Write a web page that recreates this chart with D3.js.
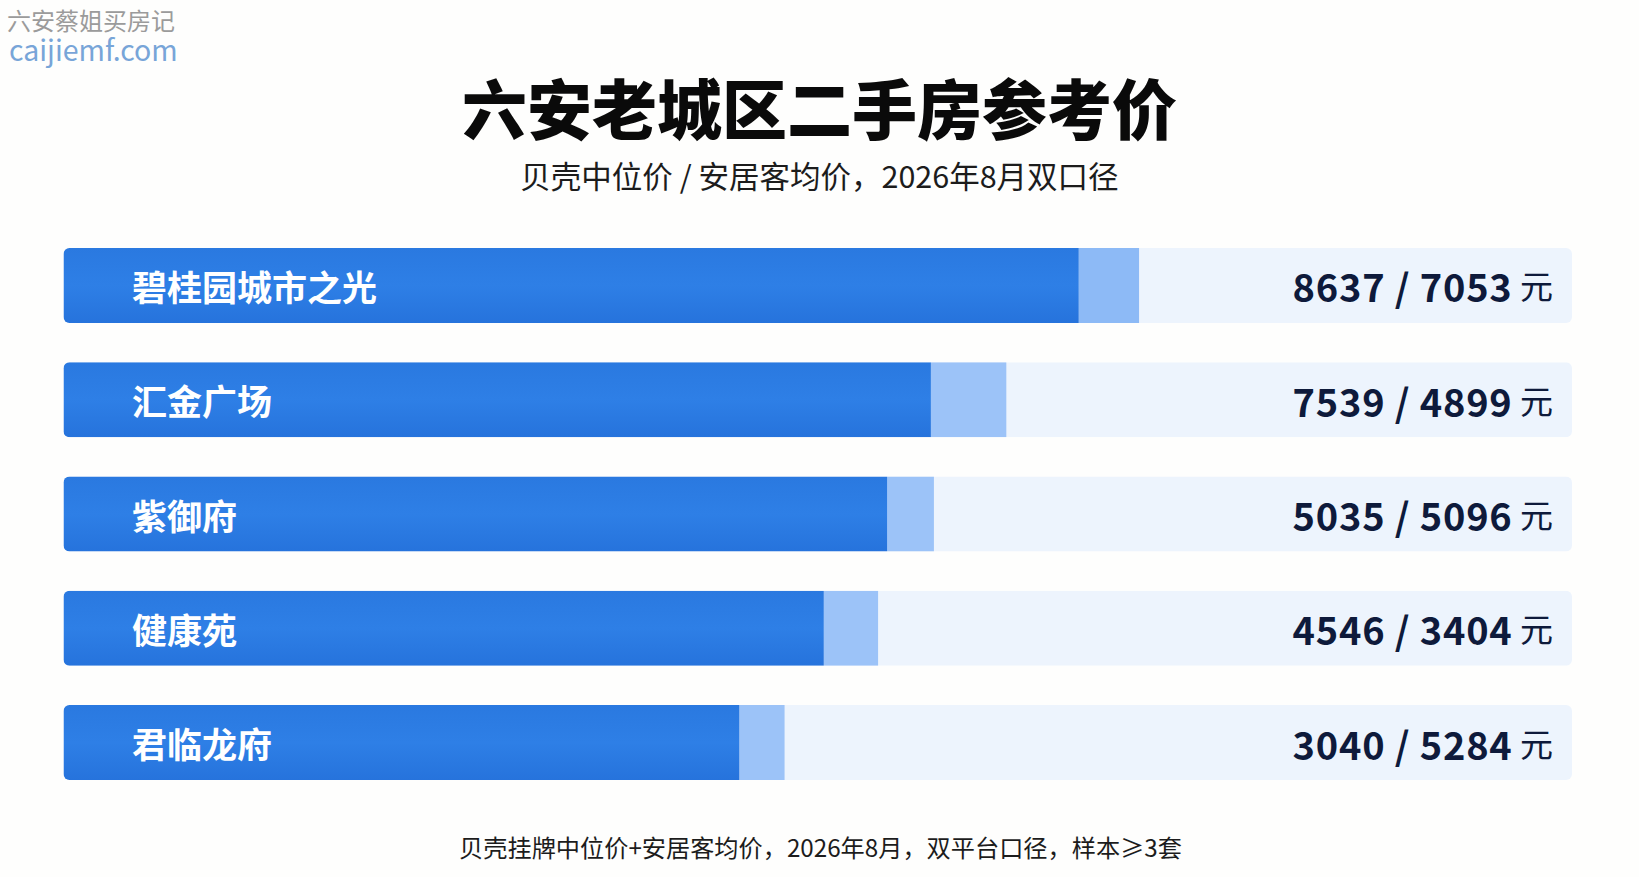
<!DOCTYPE html>
<html>
<head>
<meta charset="utf-8">
<script src="https://cdn.jsdelivr.net/npm/d3@7"></script>
<style>
  html, body { margin: 0; padding: 0; background: #fefefd; }
  svg { display: block; }
  text { font-family: "Noto Sans CJK SC", "Noto Sans", sans-serif; }
</style>
</head>
<body>
<svg id="chart" width="1639" height="877"></svg>
<script>
// ---- data ----
const categories = ["碧桂园城市之光", "汇金广场", "紫御府", "健康苑", "君临龙府"];
const beikeMedian = [8637, 7539, 5035, 4546, 3040];      // 贝壳中位价 (元)
const anjukeAvg   = [7053, 4899, 5096, 3404, 5284];      // 安居客均价 (元)
// bar lengths (% of the track)
const darkShare   = [67.3, 57.5, 54.6, 50.4, 44.8];
const lightShare  = [71.3, 62.5, 57.7, 54.0, 47.8];
const title = "六安老城区二手房参考价";
const subtitle = "贝壳中位价 / 安居客均价，2026年8月双口径";
const footnote = "贝壳挂牌中位价+安居客均价，2026年8月，双平台口径，样本≥3套";
const unit = "元";

const rows = categories.map((c, i) => ({
  name: c, b: beikeMedian[i], a: anjukeAvg[i], dark: darkShare[i], light: lightShare[i], i
}));

const svg = d3.select("#chart");
const W = 1639, H = 877;

// watermark
svg.append("text").attr("x", 7).attr("y", 19)
  .attr("dominant-baseline", "central")
  .attr("font-size", 24).attr("fill", "#9b9b9b")
  .text("六安蔡姐买房记");
svg.append("text").attr("x", 9).attr("y", 61)
  .attr("font-family", "'Noto Sans', sans-serif")
  .attr("font-size", 28.5).attr("fill", "#78a5d8")
  .text("caijiemf.com");

// titles
svg.append("text").attr("x", W / 2).attr("y", 106)
  .attr("text-anchor", "middle").attr("dominant-baseline", "central")
  .attr("font-size", 65).attr("font-weight", 900).attr("fill", "#0a0a0a")
  .text(title);
svg.append("text").attr("x", W / 2).attr("y", 175)
  .attr("text-anchor", "middle").attr("dominant-baseline", "central")
  .attr("font-size", 30.5).attr("fill", "#1c1c1c")
  .text(subtitle);

// scales
const x = d3.scaleLinear().domain([0, 100]).range([63.5, 1572]);
const y = d3.scaleBand().domain(categories).range([248, 780])
  .paddingInner(0.3436).paddingOuter(0);

const defs = svg.append("defs");
const grad = defs.append("linearGradient").attr("id", "darkGrad")
  .attr("x1", 0).attr("y1", 0).attr("x2", 0).attr("y2", 1);
grad.append("stop").attr("offset", "0%").attr("stop-color", "#2a79e0");
grad.append("stop").attr("offset", "50%").attr("stop-color", "#2e7fe6");
grad.append("stop").attr("offset", "100%").attr("stop-color", "#2673dc");

rows.forEach(d => {
  defs.append("clipPath").attr("id", "clip" + d.i)
    .append("rect")
    .attr("x", x(0)).attr("y", y(d.name))
    .attr("width", x(100) - x(0)).attr("height", y.bandwidth())
    .attr("rx", 6);
});

const g = svg.append("g");
const row = g.selectAll("g.row").data(rows).join("g").attr("class", "row")
  .attr("clip-path", d => `url(#clip${d.i})`);

row.append("rect")
  .attr("x", x(0)).attr("y", d => y(d.name))
  .attr("width", x(100) - x(0)).attr("height", y.bandwidth())
  .attr("fill", "#edf4fd");

row.append("rect")
  .attr("x", d => x(d.dark)).attr("y", d => y(d.name))
  .attr("width", d => x(d.light) - x(d.dark)).attr("height", y.bandwidth())
  .attr("fill", (d, i) => i === 0 ? "#8dbaf6" : "#9cc3f8");

row.append("rect")
  .attr("x", x(0)).attr("y", d => y(d.name))
  .attr("width", d => x(d.dark) - x(0)).attr("height", y.bandwidth())
  .attr("fill", "url(#darkGrad)");

// labels
g.selectAll("text.label").data(rows).join("text").attr("class", "label")
  .attr("x", 132).attr("y", d => y(d.name) + y.bandwidth() / 2)
  .attr("dominant-baseline", "central")
  .attr("font-size", 35).attr("font-weight", 700).attr("fill", "#ffffff")
  .text(d => d.name);

// values
const vt = g.selectAll("text.value").data(rows).join("text").attr("class", "value")
  .attr("x", 1553).attr("y", d => y(d.name) + y.bandwidth() / 2)
  .attr("text-anchor", "end").attr("dominant-baseline", "central")
  .attr("fill", "#0e1a3b");
vt.append("tspan").attr("font-size", 38).attr("font-weight", 700)
  .attr("letter-spacing", 0.8)
  .text(d => `${d.b} / ${d.a}`);
vt.append("tspan").attr("font-size", 33).attr("font-weight", 400)
  .text(" " + unit);

// footnote
svg.append("text").attr("x", W / 2 + 1).attr("y", 846)
  .attr("text-anchor", "middle").attr("dominant-baseline", "central")
  .attr("font-size", 24.2).attr("fill", "#1c1c1c")
  .text(footnote);
</script>
</body>
</html>
